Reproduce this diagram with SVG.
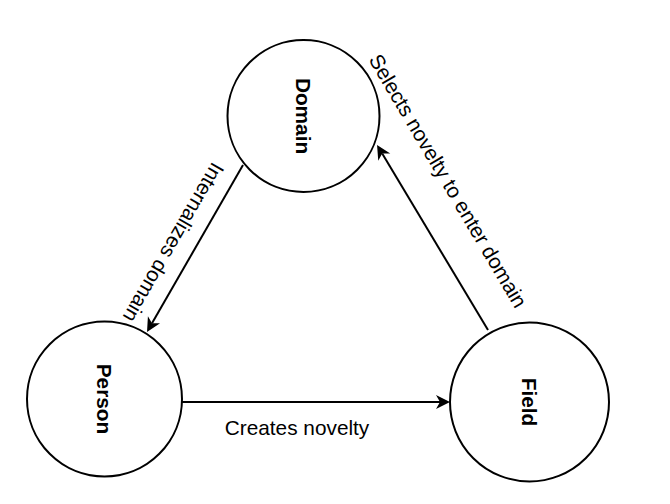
<svg xmlns="http://www.w3.org/2000/svg" width="670" height="504" viewBox="0 0 670 504">
<style>
.node{fill:#fff;stroke:#000;stroke-width:2}
.nl{font-family:"Liberation Sans",Arial,sans-serif;font-size:20.8px;font-weight:bold;fill:#000;text-anchor:middle}
.el{font-family:"Liberation Sans",Arial,sans-serif;font-size:20.8px;fill:#000;text-anchor:middle}
.edge{stroke:#000;stroke-width:2;fill:none}
</style>
<defs>
<marker id="arr" viewBox="-15 -8 16 16" refX="-10" refY="0" markerWidth="16" markerHeight="16" orient="auto" markerUnits="userSpaceOnUse">
<path d="M0,0 L-14,-7 L-10,0 L-14,7 Z" fill="#000"/>
</marker>
</defs>
<rect width="670" height="504" fill="#fff"/>
<g id="domain">
<circle class="node" cx="303.5" cy="116" r="76"/>
<text class="nl" transform="translate(303.5,116) rotate(90)" y="7.5">Domain</text>
</g>
<g id="person">
<circle class="node" cx="104.5" cy="399" r="77.5"/>
<text class="nl" transform="translate(104.5,399) rotate(90)" y="7.5">Person</text>
</g>
<g id="field">
<circle class="node" cx="529.5" cy="402" r="79.5"/>
<text class="nl" transform="translate(529.5,402) rotate(90)" y="7.5">Field</text>
</g>
<g id="connectors">
<line class="edge" x1="243" y1="165" x2="152" y2="323.3" marker-end="url(#arr)"/>
<line class="edge" x1="182" y1="402" x2="440" y2="402" marker-end="url(#arr)"/>
<line class="edge" x1="488" y1="330" x2="382.2" y2="153.6" marker-end="url(#arr)"/>
<text class="el" transform="translate(172.5,242) rotate(120)" y="6">Internalizes domain</text>
<text class="el" x="297" y="435">Creates novelty</text>
<text class="el" transform="translate(447,181.5) rotate(59.5)" y="6">Selects novelty to enter domain</text>
</g>
</svg>
